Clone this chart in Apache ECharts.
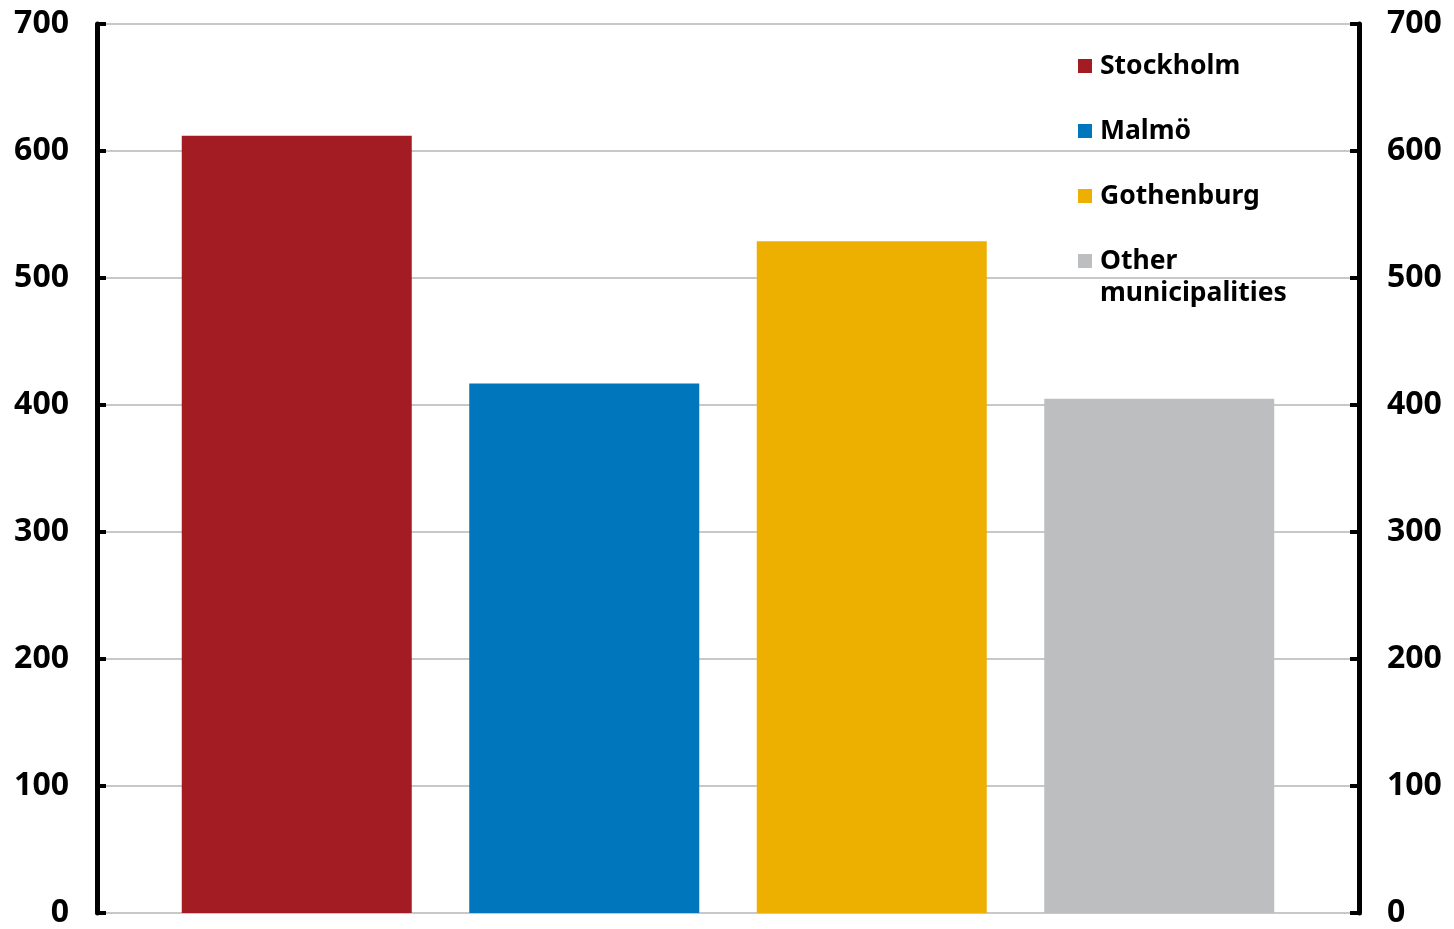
<!DOCTYPE html>
<html>
<head>
<meta charset="utf-8">
<script src="https://cdn.jsdelivr.net/npm/echarts@6/dist/echarts.min.js"></script>
<style>
  html, body { margin: 0; padding: 0; background: #fff; }
  #chart { width: 1454px; height: 929px; }
</style>
</head>
<body>
<div id="chart"></div>
<script>
const SERIES_NAMES = ['Stockholm', 'Malmö', 'Gothenburg', 'Other municipalities'];
const SERIES_VALUES = [612, 417, 529, 405];
const SERIES_COLORS = ['#A31C24', '#0077BD', '#EDB000', '#BDBEC0'];
const CATEGORIES = [''];

const FONT = '"Noto Sans", sans-serif';

const chart = echarts.init(document.getElementById('chart'), null, { renderer: 'canvas' });

const axisCommon = {
    type: 'value',
    min: 0,
    max: 700,
    interval: 100,
    axisLine: { show: true, lineStyle: { color: '#000', width: 5 } },
    axisTick: { show: true, inside: true, length: 9, lineStyle: { color: '#000', width: 4 } },
    axisLabel: { color: '#000', fontSize: 32, fontWeight: 'bold', fontFamily: FONT, margin: 28 },
    splitLine: { show: true, lineStyle: { color: '#c8c8c8', width: 2 } }
};

const legendCommon = {
    orient: 'vertical',
    left: 1073,
    itemWidth: 14,
    itemHeight: 14,
    itemGap: 33,
    icon: 'rect',
    textStyle: { color: '#000', fontSize: 26.5, fontWeight: 'bold', fontFamily: FONT, lineHeight: 32, padding: [0, 0, 0, 3] }
};

const option = {
    backgroundColor: '#fff',
    animation: false,
    grid: { left: 97, right: 95, top: 24, bottom: 12, containLabel: false },
    legend: [
        Object.assign({}, legendCommon, { top: 45, data: SERIES_NAMES.slice(0, 3) }),
        // blank first line keeps the icon beside "Other" instead of between the two lines
        Object.assign({}, legendCommon, {
            top: 208,
            data: SERIES_NAMES.slice(3),
            formatter: name => '\n' + name.replace(' ', '\n')
        })
    ],
    xAxis: {
        type: 'category',
        data: CATEGORIES,
        axisLine: { show: false },
        axisTick: { show: false },
        axisLabel: { show: false }
    },
    yAxis: [
        Object.assign({ position: 'left' }, axisCommon),
        Object.assign({ position: 'right' }, axisCommon, { splitLine: { show: false } })
    ],
    series: SERIES_NAMES.map((name, i) => ({
        name,
        type: 'bar',
        data: [SERIES_VALUES[i]],
        barWidth: 230,
        barGap: '25%',
        itemStyle: { color: SERIES_COLORS[i] }
    }))
};

chart.setOption(option);
</script>
</body>
</html>
